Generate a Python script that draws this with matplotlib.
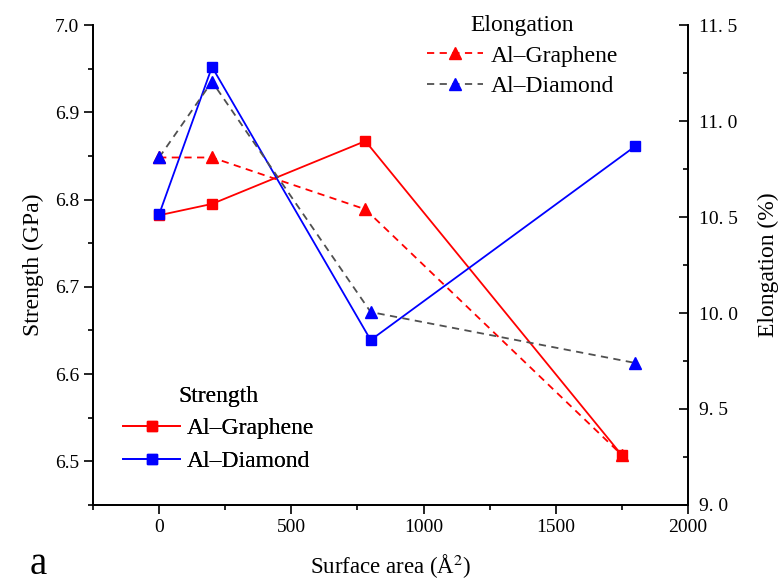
#!/usr/bin/env python3
# -*- coding: utf-8 -*-

import numpy as np
import matplotlib
matplotlib.use('Agg')
import matplotlib.pyplot as plt
from matplotlib.ticker import MultipleLocator, FuncFormatter

# surface area (A^2) for each composite
area_graphene = [0, 200, 780, 1750]
area_diamond = [0, 200, 800, 1800]

# strength (GPa), left axis
strength_graphene = [6.782, 6.795, 6.867, 6.507]
strength_diamond = [6.783, 6.952, 6.639, 6.861]

# elongation (%), right axis
elong_graphene = [10.81, 10.81, 10.54, 9.26]
elong_diamond = [10.81, 11.205, 10.005, 9.74]

plt.rcParams['font.family'] = ['Liberation Serif', 'DejaVu Serif']
plt.rcParams['mathtext.fontset'] = 'stix'

fig = plt.figure(figsize=(7.79, 5.83), dpi=100)
ax = fig.add_axes([0.1194, 0.1338, 0.7638, 0.8233])
ax2 = ax.twinx()

lw = 1.3
l1, = ax.plot(area_graphene, strength_graphene, '-', color='red', lw=lw,
              marker='s', ms=7.5, label='Al\u2013Graphene')
l2, = ax.plot(area_diamond, strength_diamond, '-', color='blue', lw=lw,
              marker='s', ms=7.5, label='Al\u2013Diamond')

l3, = ax2.plot(area_graphene, elong_graphene, color='red', lw=lw, ls=(0, (4, 3)),
               marker='^', ms=8.5, mfc='red', mec='red', label='Al\u2013Graphene')
l4, = ax2.plot(area_diamond, elong_diamond, color='#505050', lw=lw, ls=(0, (4, 3)),
               marker='^', ms=8.5, mfc='blue', mec='blue', label='Al\u2013Diamond')

ax.set_xlim(-250, 2000)
ax.set_ylim(6.45, 7.0)
ax2.set_ylim(9.0, 11.5)

ax.xaxis.set_major_locator(MultipleLocator(500))
ax.xaxis.set_minor_locator(MultipleLocator(250))
ax.yaxis.set_major_locator(MultipleLocator(0.1))
ax.yaxis.set_minor_locator(MultipleLocator(0.05))
ax2.yaxis.set_major_locator(MultipleLocator(0.5))
ax2.yaxis.set_minor_locator(MultipleLocator(0.25))
ax.yaxis.set_major_formatter(FuncFormatter(lambda v, p: '%.1f' % v))
ax2.yaxis.set_major_formatter(FuncFormatter(lambda v, p: ('%.1f' % v).replace('.', '. ')))

for a in (ax, ax2):
    a.spines['top'].set_visible(False)
    for s in a.spines.values():
        s.set_linewidth(1.3)

ax.tick_params(axis='both', which='major', direction='out', length=6.5, width=1.2,
               labelsize=14, right=False, top=False)
ax.tick_params(axis='both', which='minor', direction='out', length=3.5, width=1.2,
               right=False, top=False)
ax2.tick_params(axis='y', which='major', direction='in', length=6.5, width=1.2,
                labelsize=14, pad=8)
ax2.tick_params(axis='y', which='minor', direction='in', length=3.5, width=1.2)

ax.set_xlabel('Surface area (\u00c5$^{2}$)', fontsize=16.5, labelpad=12)
ax.set_ylabel('Strength (GPa)', fontsize=17, labelpad=8)
ax2.set_ylabel('Elongation (%)', fontsize=17, labelpad=14)

leg1 = ax.legend(handles=[l1, l2], title='Strength', loc='upper left',
                 bbox_to_anchor=(0.035, 0.268), frameon=False, fontsize=17,
                 title_fontsize=17, handlelength=2.4, handletextpad=0.3,
                 labelspacing=0.47, borderaxespad=0)
ax2.legend(handles=[l3, l4], title='Elongation', loc='upper left',
           bbox_to_anchor=(0.545, 1.04), frameon=False, fontsize=17,
           title_fontsize=17, handlelength=2.4, handletextpad=0.3,
           labelspacing=0.38, borderaxespad=0)
ax.add_artist(leg1)

fig.text(0.038, 0.016, 'a', fontsize=28)

fig.savefig('out.png', dpi=100)
